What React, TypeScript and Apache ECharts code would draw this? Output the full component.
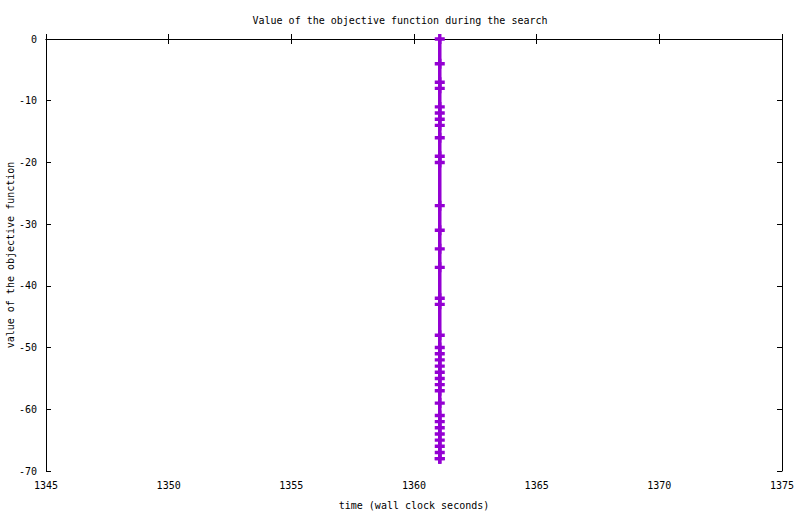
import React, { useEffect, useRef } from "react";
import * as echarts from "echarts";

const titleText = "Value of the objective function during the search";
const xName = "time (wall clock seconds)";
const yName = "value of the objective function";

const times = [
  1361.05, 1361.05, 1361.05, 1361.05, 1361.05, 1361.05, 1361.05, 1361.05, 1361.05, 1361.05,
  1361.05, 1361.05, 1361.05, 1361.05, 1361.05, 1361.05, 1361.05, 1361.05, 1361.05, 1361.05,
  1361.05, 1361.05, 1361.05, 1361.05, 1361.05, 1361.05, 1361.05, 1361.05, 1361.05, 1361.05,
  1361.05, 1361.05, 1361.05, 1361.05, 1361.05, 1361.05,
];
const values = [
  0, -4, -7, -8, -11, -12, -13, -14, -16, -19,
  -20, -27, -31, -34, -37, -42, -43, -48, -50, -51,
  -52, -53, -54, -55, -56, -57, -59, -61, -62, -63,
  -64, -65, -66, -67, -68, -68,
];

const xMin = 1345;
const xMax = 1375;
const xStep = 5;
const yMin = -70;
const yMax = 0;
const yStep = 10;

const FONT = "DejaVu Sans Mono";
const PLUS = "path://M0,3.3 H10 V6.7 H0 Z M3.3,0 H6.7 V10 H3.3 Z";

export default function App() {
  const ref = useRef<HTMLDivElement>(null);
  useEffect(() => {
    document.body.style.margin = "0";
    const chart = echarts.init(ref.current!, null, { renderer: "svg" });
    const axisLine = { show: true, lineStyle: { color: "#000", width: 1 } };
    const tick = { show: true, inside: true, length: 5, lineStyle: { color: "#000", width: 1 } };
    const label = { color: "#000", fontFamily: FONT, fontSize: 10 };
    const plain = (v: number) => String(v);
    chart.setOption({
      animation: false,
      backgroundColor: "#fff",
      title: {
        text: titleText,
        left: "center",
        top: 10,
        textStyle: { fontFamily: FONT, fontSize: 10, fontWeight: "normal", color: "#000" },
      },
      grid: { left: 46, right: 18, top: 39, bottom: 43, outerBoundsMode: "none", containLabel: false },
      xAxis: [
        {
          type: "value",
          min: xMin,
          max: xMax,
          interval: xStep,
          name: xName,
          nameLocation: "middle",
          nameGap: 29,
          nameMoveOverlap: false,
          nameTextStyle: label,
          axisLine,
          axisTick: tick,
          axisLabel: { ...label, margin: 9, formatter: plain },
          splitLine: { show: false },
        },
        {
          type: "value",
          position: "top",
          min: xMin,
          max: xMax,
          interval: xStep,
          axisLine,
          axisTick: tick,
          axisLabel: { show: false },
          splitLine: { show: false },
        },
      ],
      yAxis: [
        {
          type: "value",
          min: yMin,
          max: yMax,
          interval: yStep,
          name: yName,
          nameLocation: "middle",
          nameGap: 31,
          nameMoveOverlap: false,
          nameTextStyle: label,
          axisLine,
          axisTick: tick,
          axisLabel: { ...label, margin: 9, formatter: plain },
          splitLine: { show: false },
        },
        {
          type: "value",
          position: "right",
          min: yMin,
          max: yMax,
          interval: yStep,
          axisLine,
          axisTick: tick,
          axisLabel: { show: false },
          splitLine: { show: false },
        },
      ],
      series: [
        {
          type: "line",
          data: times.map((t, i) => [t, values[i]]),
          lineStyle: { color: "#9400D3", width: 3.5 },
          itemStyle: { color: "#9400D3" },
          symbol: PLUS,
          symbolSize: 10,
          showSymbol: true,
          clip: false,
        },
      ],
    });
    return () => chart.dispose();
  }, []);
  return <div ref={ref} style={{ width: 800, height: 514 }} />;
}
